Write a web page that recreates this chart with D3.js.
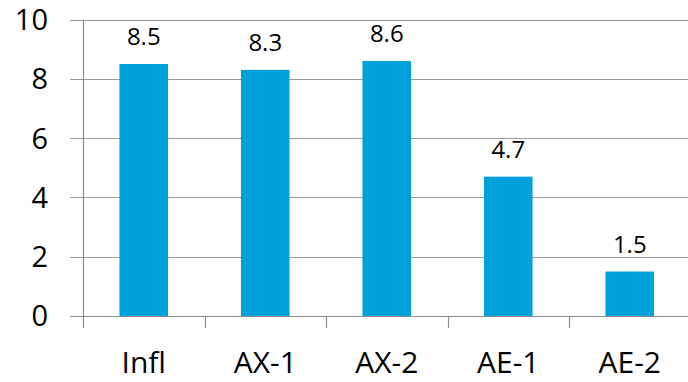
<!DOCTYPE html>
<html>
<head>
<meta charset="utf-8">
<script src="https://cdn.jsdelivr.net/npm/d3@7"></script>
<style>
  html, body { margin: 0; padding: 0; background: #fff; }
  svg text { font-family: "Open Sans", "Liberation Sans", sans-serif; fill: #000; }
</style>
</head>
<body>
<svg id="chart" width="688" height="382"></svg>
<script>
const categories = ["Infl", "AX-1", "AX-2", "AE-1", "AE-2"];
const values = [8.5, 8.3, 8.6, 4.7, 1.5];
const yTicks = [0, 2, 4, 6, 8, 10];

const svg = d3.select("#chart");
const plotLeft = 83, plotRight = 690.5, plotTop = 19.5, plotBottom = 316;

const x = d3.scaleBand().domain(categories).range([plotLeft, plotRight])
  .paddingInner(0.6).paddingOuter(0.3);
const y = d3.scaleLinear().domain([0, 10]).range([plotBottom, plotTop]);
const cx = d => x(d) + x.bandwidth() / 2;

// horizontal gridlines with short ticks left of the axis
svg.append("g").selectAll("line").data(yTicks).join("line")
  .attr("x1", 70).attr("x2", 688)
  .attr("y1", d => Math.round(y(d)) + 0.5).attr("y2", d => Math.round(y(d)) + 0.5)
  .attr("stroke", "#9a9a9a").attr("stroke-width", 1.2);

// y tick labels
svg.append("g").selectAll("text").data(yTicks).join("text")
  .attr("x", 48).attr("y", d => y(d))
  .attr("dy", "0.36em")
  .attr("text-anchor", "end")
  .style("font-size", "29px")
  .text(d => d);

// vertical axis line
svg.append("line")
  .attr("x1", plotLeft + 0.5).attr("x2", plotLeft + 0.5)
  .attr("y1", plotTop).attr("y2", plotBottom)
  .attr("stroke", "#8c8c8c").attr("stroke-width", 1.2);

// category boundary ticks below the baseline
const boundaries = categories.map(d => cx(d) - x.step() / 2).concat([cx(categories[categories.length - 1]) + x.step() / 2]);
svg.append("g").selectAll("line").data(boundaries).join("line")
  .attr("x1", d => Math.round(d) + 0.5).attr("x2", d => Math.round(d) + 0.5)
  .attr("y1", plotBottom).attr("y2", 328)
  .attr("stroke", "#8c8c8c").attr("stroke-width", 1.2);

// bars
svg.append("g").selectAll("rect").data(categories).join("rect")
  .attr("x", d => x(d))
  .attr("y", (d, i) => y(values[i]))
  .attr("width", x.bandwidth())
  .attr("height", (d, i) => y(0) - y(values[i]))
  .attr("fill", "#00a0da");

// baseline
svg.append("line")
  .attr("x1", 70).attr("x2", 688)
  .attr("y1", plotBottom + 0.5).attr("y2", plotBottom + 0.5)
  .attr("stroke", "#8c8c8c").attr("stroke-width", 1.2);

// value labels
svg.append("g").selectAll("text").data(categories).join("text")
  .attr("x", d => cx(d))
  .attr("y", (d, i) => y(values[i]) - 19)
  .attr("text-anchor", "middle")
  .style("font-size", "24px")
  .text((d, i) => values[i].toFixed(1));

// category labels
svg.append("g").selectAll("text").data(categories).join("text")
  .attr("x", d => cx(d))
  .attr("y", 373)
  .attr("text-anchor", "middle")
  .style("font-size", "30px")
  .text(d => d);
</script>
</body>
</html>
